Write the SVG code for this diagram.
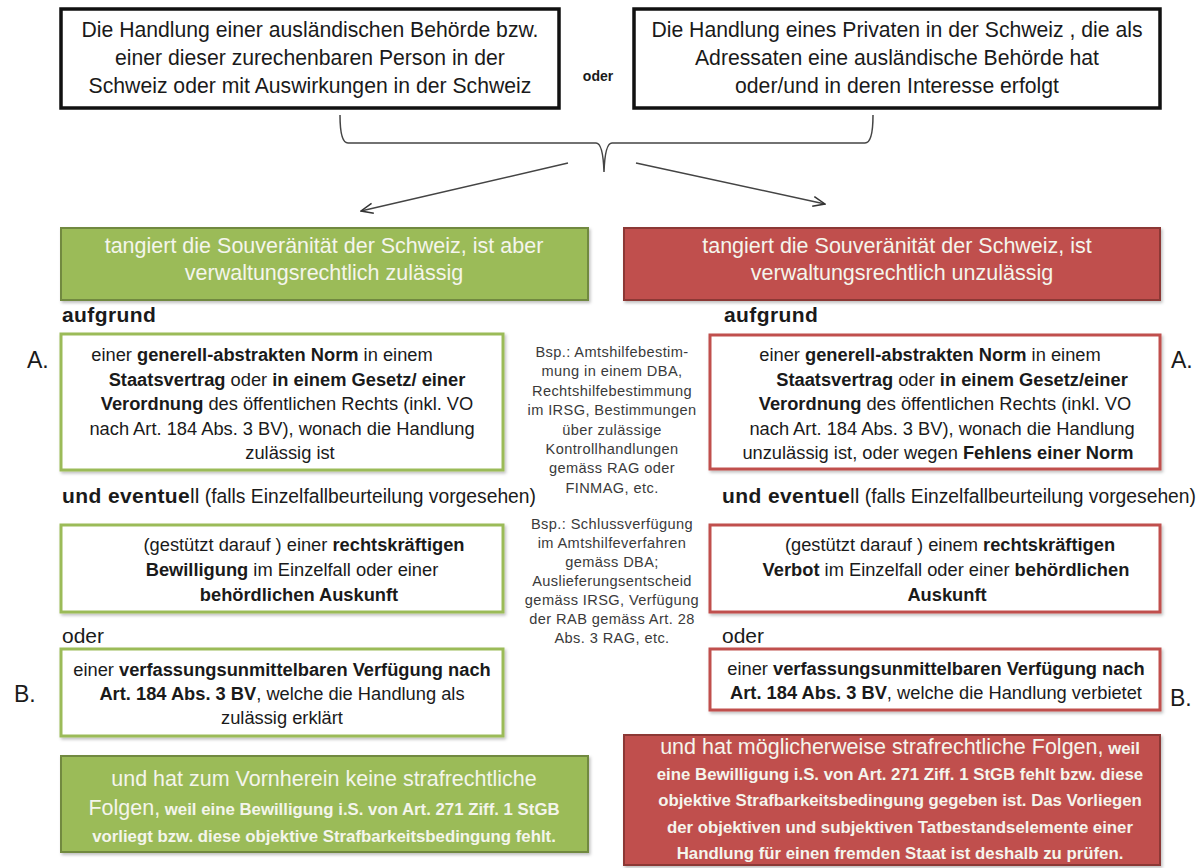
<svg xmlns="http://www.w3.org/2000/svg" width="1203" height="868" viewBox="0 0 1203 868">
<defs>
<style>
text{font-family:"Liberation Sans",Arial,sans-serif;fill:#1a1a1a}
.top{font-size:21.2px;text-anchor:middle}
.hdr{font-size:21.5px;text-anchor:middle;fill:#f4f5ec}
.bx{font-size:18.3px;text-anchor:middle}
.b{font-weight:bold}
.lbl{font-size:21px;font-weight:bold;letter-spacing:0.4px}
.lblr{font-size:21px}
.ev{font-size:19.3px}
.big{font-size:23px}
.mid{font-size:14.6px;text-anchor:middle;fill:#3a3a3a;letter-spacing:0.4px}
.ft{text-anchor:middle;fill:#f4f5ec;font-weight:bold;font-size:16.8px}
.ftl{font-size:21.5px;font-weight:normal}
.topbox{fill:#fff;stroke:#111;stroke-width:3.5}
.gfill{fill:#9bbb59;stroke:#71893f;stroke-width:2;filter:url(#sh)}
.rfill{fill:#c0504d;stroke:#8c3836;stroke-width:2;filter:url(#sh)}
.gbox{fill:#fff;stroke:#9bbb59;stroke-width:3;filter:url(#sh)}
.rbox{fill:#fff;stroke:#c0504d;stroke-width:3;filter:url(#sh)}
.con{fill:none;stroke:#444;stroke-width:1.5}
</style>
<filter id="sh" x="-5%" y="-10%" width="110%" height="130%">
<feDropShadow dx="1.5" dy="2" stdDeviation="1.5" flood-color="#000" flood-opacity="0.25"/>
</filter>
<marker id="arr" viewBox="0 0 14 12" refX="13" refY="6" markerWidth="14" markerHeight="12" markerUnits="userSpaceOnUse" orient="auto">
<path d="M1,1 L13,6 L1,11" fill="none" stroke="#333" stroke-width="1.5"/>
</marker>
</defs>
<rect width="1203" height="868" fill="#fff"/>

<g id="connectors">
<path class="con" d="M340,115 Q340,143 348,143 L596,143 Q603,143 604,172 Q605,143 612,143 L865,143 Q873,143 873,115"/>
<line class="con" x1="568" y1="163" x2="361" y2="211" stroke="#333" marker-end="url(#arr)"/>
<line class="con" x1="636" y1="163" x2="825" y2="204" stroke="#333" marker-end="url(#arr)"/>
</g>

<g id="node-top-left">
<rect class="topbox" x="61" y="9" width="498" height="99"/>
<text class="top" x="310" y="37">Die Handlung einer ausländischen Behörde bzw.</text>
<text class="top" x="310" y="65">einer dieser  zurechenbaren Person in der</text>
<text class="top" x="310" y="93">Schweiz  oder mit Auswirkungen in der Schweiz</text>
</g>

<g id="label-oder-top">
<text x="598" y="81" style="font-size:14px;font-weight:bold;text-anchor:middle">oder</text>
</g>

<g id="node-top-right">
<rect class="topbox" x="634" y="9" width="526" height="99"/>
<text class="top" x="897" y="37">Die Handlung eines Privaten in der Schweiz , die als</text>
<text class="top" x="897" y="65">Adressaten eine ausländische Behörde hat</text>
<text class="top" x="897" y="93">oder/und in deren Interesse erfolgt</text>
</g>

<g id="node-green-header">
<rect class="gfill" x="61" y="228" width="527" height="72"/>
<text class="hdr" x="324" y="253">tangiert die Souveränität der Schweiz, ist aber</text>
<text class="hdr" x="324" y="280">verwaltungsrechtlich zulässig</text>
</g>

<g id="node-red-header">
<rect class="rfill" x="624" y="228" width="536" height="72"/>
<text class="hdr" x="897" y="253">tangiert die Souveränität der Schweiz, ist</text>
<text class="hdr" x="902" y="280">verwaltungsrechtlich unzulässig</text>
</g>

<g id="labels-left">
<text class="lbl" x="62" y="322">aufgrund</text>
<text class="big" x="27" y="368">A.</text>
<text x="62" y="503"><tspan class="lbl">und eventue</tspan><tspan class="lblr">ll</tspan><tspan class="ev"> (falls Einzelfallbeurteilung vorgesehen)</tspan></text>
<text class="lblr" x="62" y="643">oder</text>
<text class="big" x="14" y="702">B.</text>
</g>

<g id="labels-right">
<text class="lbl" x="724" y="322">aufgrund</text>
<text class="big" x="1171" y="368">A.</text>
<text x="722" y="503"><tspan class="lbl">und eventue</tspan><tspan class="lblr">ll</tspan><tspan class="ev"> (falls Einzelfallbeurteilung vorgesehen)</tspan></text>
<text class="lblr" x="722" y="643">oder</text>
<text class="big" x="1170" y="706">B.</text>
</g>

<g id="node-green-a">
<rect class="gbox" x="61" y="334" width="442" height="136"/>
<text class="bx" x="262" y="361">einer <tspan class="b">generell-abstrakten Norm</tspan> in einem</text>
<text class="bx" x="287" y="385.5"><tspan class="b">Staatsvertrag</tspan> oder <tspan class="b">in einem Gesetz/ einer</tspan></text>
<text class="bx" x="287" y="410"><tspan class="b">Verordnung</tspan> des öffentlichen Rechts (inkl. VO</text>
<text class="bx" x="282" y="434.5">nach Art. 184 Abs. 3 BV), wonach die Handlung</text>
<text class="bx" x="290" y="459">zulässig ist</text>
</g>

<g id="node-red-a">
<rect class="rbox" x="710" y="335" width="450" height="134"/>
<text class="bx" x="930" y="361">einer <tspan class="b">generell-abstrakten Norm</tspan> in einem</text>
<text class="bx" x="952" y="385.5"><tspan class="b">Staatsvertrag</tspan> oder <tspan class="b">in einem Gesetz/einer</tspan></text>
<text class="bx" x="945" y="410"><tspan class="b">Verordnung</tspan> des öffentlichen Rechts (inkl. VO</text>
<text class="bx" x="942" y="434.5">nach Art. 184 Abs. 3 BV), wonach die Handlung</text>
<text class="bx" x="938" y="459">unzulässig ist, oder wegen <tspan class="b">Fehlens einer Norm</tspan></text>
</g>

<g id="note-1">
<text class="mid" x="612" y="357">Bsp.: Amtshilfebestim-</text>
<text class="mid" x="612" y="376.4">mung in einem DBA,</text>
<text class="mid" x="612" y="395.8">Rechtshilfebestimmung</text>
<text class="mid" x="612" y="415.2">im IRSG, Bestimmungen</text>
<text class="mid" x="612" y="434.6">über zulässige</text>
<text class="mid" x="612" y="454">Kontrollhandlungen</text>
<text class="mid" x="612" y="473.4">gemäss RAG oder</text>
<text class="mid" x="612" y="492.8">FINMAG, etc.</text>
</g>

<g id="note-2">
<text class="mid" x="612" y="529">Bsp.: Schlussverfügung</text>
<text class="mid" x="612" y="548">im Amtshilfeverfahren</text>
<text class="mid" x="612" y="567">gemäss DBA;</text>
<text class="mid" x="612" y="586">Auslieferungsentscheid</text>
<text class="mid" x="612" y="605">gemäss IRSG, Verfügung</text>
<text class="mid" x="612" y="624">der RAB gemäss Art. 28</text>
<text class="mid" x="612" y="643">Abs. 3 RAG, etc.</text>
</g>

<g id="node-green-b">
<rect class="gbox" x="61" y="525" width="442" height="87"/>
<text class="bx" x="304" y="551">(gestützt darauf ) einer <tspan class="b">rechtskräftigen</tspan></text>
<text class="bx" x="292" y="576"><tspan class="b">Bewilligung</tspan> im Einzelfall oder einer</text>
<text class="bx" x="299" y="601"><tspan class="b">behördlichen Auskunft</tspan></text>
</g>

<g id="node-red-b">
<rect class="rbox" x="710" y="525" width="450" height="87"/>
<text class="bx" x="950" y="551">(gestützt darauf ) einem <tspan class="b">rechtskräftigen</tspan></text>
<text class="bx" x="946" y="576"><tspan class="b">Verbot</tspan> im Einzelfall oder einer <tspan class="b">behördlichen</tspan></text>
<text class="bx" x="947" y="601"><tspan class="b">Auskunft</tspan></text>
</g>

<g id="node-green-c">
<rect class="gbox" x="61" y="649" width="442" height="87"/>
<text class="bx" x="282" y="676">einer <tspan class="b">verfassungsunmittelbaren Verfügung nach</tspan></text>
<text class="bx" x="282" y="700"><tspan class="b">Art. 184 Abs. 3 BV</tspan>, welche die Handlung als</text>
<text class="bx" x="282" y="724">zulässig erklärt</text>
</g>

<g id="node-red-c">
<rect class="rbox" x="710" y="649" width="450" height="61"/>
<text class="bx" x="936" y="675">einer <tspan class="b">verfassungsunmittelbaren Verfügung nach</tspan></text>
<text class="bx" x="936" y="699"><tspan class="b">Art. 184 Abs. 3 BV</tspan>, welche die Handlung verbietet</text>
</g>

<g id="node-green-footer">
<rect class="gfill" x="61" y="756" width="527" height="96"/>
<text class="ft" x="324" y="786"><tspan class="ftl">und hat zum Vornherein keine strafrechtliche</tspan></text>
<text class="ft" x="324" y="815"><tspan class="ftl">Folgen,</tspan> weil eine Bewilligung i.S. von Art. 271 Ziff. 1 StGB</text>
<text class="ft" x="324" y="842">vorliegt bzw. diese objektive Strafbarkeitsbedingung fehlt.</text>
</g>

<g id="node-red-footer">
<rect class="rfill" x="624" y="735" width="536" height="130"/>
<text class="ft" x="900" y="754"><tspan class="ftl">und hat möglicherweise strafrechtliche Folgen,</tspan> weil</text>
<text class="ft" x="900" y="780">eine Bewilligung i.S. von Art. 271 Ziff. 1 StGB fehlt bzw. diese</text>
<text class="ft" x="900" y="806">objektive Strafbarkeitsbedingung gegeben ist. Das Vorliegen</text>
<text class="ft" x="900" y="833">der objektiven und subjektiven Tatbestandselemente einer</text>
<text class="ft" x="900" y="859">Handlung für einen fremden Staat ist deshalb zu prüfen.</text>
</g>
</svg>
